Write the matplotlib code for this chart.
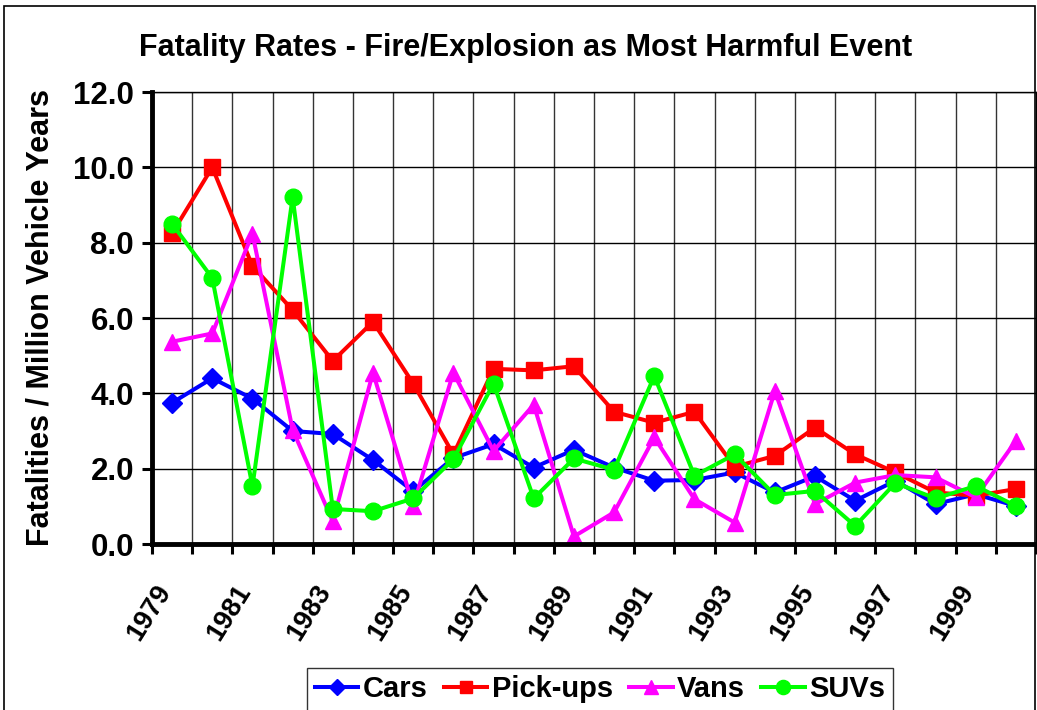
import matplotlib
matplotlib.use('Agg')
import matplotlib.pyplot as plt
import numpy as np
from matplotlib.patches import Rectangle
from matplotlib.ticker import FixedLocator, FormatStrFormatter
from matplotlib.transforms import ScaledTranslation

plt.rcParams['font.family'] = ['Liberation Sans', 'DejaVu Sans']
plt.rcParams['font.weight'] = 'bold'

years = list(range(1979, 2001))
cars = [3.75, 4.40, 3.86, 3.00, 2.92, 2.23, 1.40, 2.28, 2.65, 2.03, 2.50, 2.03,
        1.68, 1.70, 1.90, 1.37, 1.80, 1.15, 1.68, 1.06, 1.32, 1.01]
pickups = [8.25, 10.00, 7.38, 6.21, 4.86, 5.90, 4.26, 2.38, 4.65, 4.61, 4.72, 3.51,
           3.22, 3.51, 2.05, 2.34, 3.09, 2.38, 1.90, 1.37, 1.28, 1.46]
vans = [5.37, 5.59, 8.24, 3.03, 0.60, 4.55, 1.01, 4.55, 2.47, 3.70, 0.20, 0.84,
        2.83, 1.19, 0.57, 4.06, 1.06, 1.63, 1.83, 1.77, 1.24, 2.74]
suvs = [8.50, 7.06, 1.53, 9.21, 0.93, 0.87, 1.21, 2.25, 4.26, 1.21, 2.27, 1.97,
        4.46, 1.81, 2.38, 1.30, 1.41, 0.48, 1.62, 1.21, 1.54, 1.01]

fig = plt.figure(figsize=(10.37, 7.10), dpi=100)
ax = fig.add_axes([152 / 1037, 166 / 710, 884 / 1037, 452 / 710])

x = np.arange(len(years))
ax.plot(x, cars, '-D', color='#0000FF', lw=2.9, ms=10, label='Cars')
ax.plot(x, pickups, '-s', color='#FF0000', lw=2.9, ms=11, label='Pick-ups')
ax.plot(x, vans, '-^', color='#FF00FF', lw=2.9, ms=12, label='Vans')
ax.plot(x, suvs, '-o', color='#00FF00', lw=2.9, ms=12, label='SUVs')

ax.set_xlim(-0.5, len(years) - 0.5)
ax.set_ylim(0, 12)

# category boundaries: gridlines and tick marks
ax.xaxis.set_minor_locator(FixedLocator(np.arange(-0.5, len(years), 1)))
ax.xaxis.set_major_locator(FixedLocator(x[::2]))
ax.set_xticklabels([str(y) for y in years[::2]], rotation=58, ha='right', va='center',
                   rotation_mode='anchor', fontsize=19.5, fontweight='bold')
ax.tick_params(axis='x', which='major', length=0, pad=31)
ax.tick_params(axis='x', which='minor', length=7, width=2.2, direction='out')
shift = ScaledTranslation(-7 / 100, 0, fig.dpi_scale_trans)
for lab in ax.get_xticklabels():
    lab.set_transform(lab.get_transform() + shift)

ax.set_yticks(np.arange(0, 12.1, 2))
ax.yaxis.set_major_formatter(FormatStrFormatter('%.1f'))
ax.tick_params(axis='y', length=7, width=2.2, direction='out', labelsize=22.5, pad=6)
for lab in ax.get_yticklabels():
    lab.set_fontweight('bold')

ax.grid(True, axis='y', which='major', color='black', lw=1)
ax.grid(True, axis='x', which='minor', color='#333333', lw=1)
ax.set_axisbelow(True)

ax.spines['left'].set_linewidth(3.5)
ax.spines['bottom'].set_linewidth(3.5)
ax.spines['top'].set_linewidth(1)
ax.spines['right'].set_linewidth(1)

ax.set_ylabel('Fatalities / Million Vehicle Years', fontsize=22, fontweight='bold', labelpad=13)
fig.text(0.507, 0.932, 'Fatality Rates - Fire/Explosion as Most Harmful Event',
         ha='center', va='center', fontsize=22, fontweight='bold')

leg = fig.legend(loc='upper center', bbox_to_anchor=(600 / 1037, 1 - 668 / 710), ncol=4,
                 fontsize=21, frameon=True, fancybox=False, handlelength=1.5,
                 handletextpad=0.15, columnspacing=0.55, borderpad=0.25,
                 borderaxespad=0, markerscale=0.85)
leg.get_frame().set_edgecolor('black')
leg.get_frame().set_linewidth(1)
for t in leg.get_texts():
    t.set_fontweight('bold')

fig.patches.append(Rectangle((4 / 1037, -0.05), 1031 / 1037, 1 - 6 / 710 + 0.05,
                             transform=fig.transFigure, fill=False, edgecolor='black',
                             lw=1.2))

fig.savefig('out.png', dpi=100)
